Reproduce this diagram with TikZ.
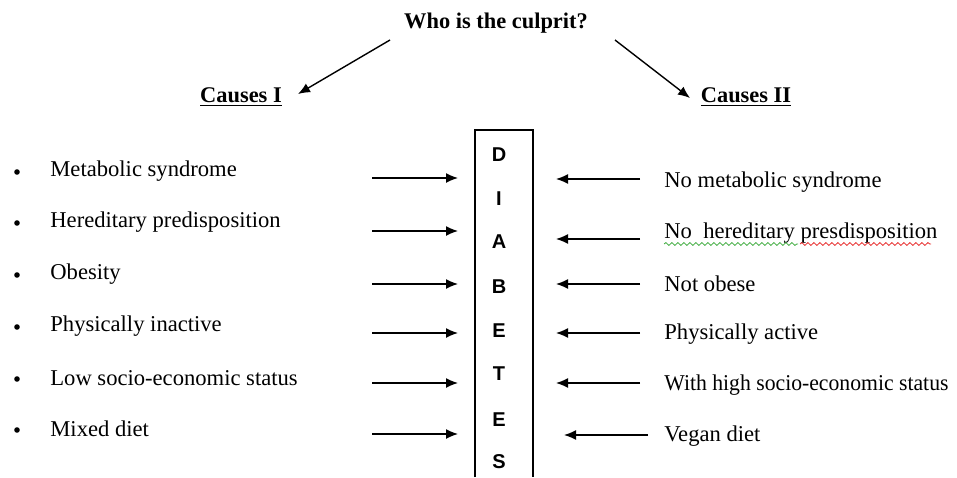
\documentclass[tikz,border=0pt]{standalone}
\usepackage{fontspec}
\setmainfont{Liberation Serif}
\newfontfamily\boxfont{Liberation Sans}
\usetikzlibrary{arrows.meta,decorations.pathmorphing}
\definecolor{spellred}{RGB}{230,40,40}
\definecolor{spellgreen}{RGB}{60,170,60}

\tikzset{
  txt/.style={anchor=west, inner sep=0pt, font=\fontsize{11.3}{14}\selectfont},
  head/.style={inner sep=0pt, font=\fontsize{11.2}{14}\selectfont\bfseries},
  letter/.style={inner sep=0pt, font=\fontsize{10}{12}\selectfont\boxfont\bfseries},
  arr/.style={-{Latex[length=6pt,width=5pt]}, line width=0.7pt},
  wavy/.style={decorate, decoration={snake, amplitude=0.7pt, segment length=3pt}, thin}
}

\begin{document}
\begin{tikzpicture}[x=0.5pt,y=-0.5pt]
\useasboundingbox (0,0) rectangle (957,477);

% heading
\node[head] (who) at (496,23) {Who is the culprit?};
\node[head] (c1) at (241,97) {\underline{Causes I}};
\node[head] (c2) at (746,97) {\underline{Causes II}};
\coordinate (w1) at (390,40);
\coordinate (w2) at (615,40);
\coordinate (t1) at (298,94);
\coordinate (t2) at (690,98);
\draw [arr] (w1)--(t1);
\draw [arr] (w2)--(t2);

% the box
\draw [line width=0.7pt] (475,477)--(475,130)--(533,130)--(533,477);
\foreach \l/\y [count=\i] in {D/155,I/199,A/242,B/287,E/331,T/374,E/420,S/462}
  \node[letter] (L\i) at (499,\y) {\l};

% causes I
\foreach \t/\y [count=\i] in {Metabolic syndrome/171, Hereditary predisposition/222,
  Obesity/274, Physically inactive/326, Low socio-economic status/378, Mixed diet/429}
{
  \fill (17,\y+1) circle (2.8);
  \node[txt] (a\i) at (50,\y) {\t};
}
\foreach \y [count=\i] in {178,231,284,333,383,434}
{
  \coordinate (p\i) at (372,\y);
  \coordinate (q\i) at (458,\y);
  \draw [arr] (p\i)--(q\i);
}

% causes II
\foreach \t/\y [count=\i] in {No metabolic syndrome/182, No\ \ hereditary presdisposition/233,
  Not obese/284, Physically active/334, \scalebox{0.96}[1]{With high socio-economic status}/385, Vegan diet/436}
  \node[txt] (b\i) at (664,\y) {\t};
\foreach \xa/\xb/\y [count=\i] in {640/556/179, 640/556/239, 640/556/284, 640/556/333, 640/556/383, 648/564/435}
{
  \coordinate (r\i) at (\xa,\y);
  \coordinate (s\i) at (\xb,\y);
  \draw [arr] (r\i)--(s\i);
}

% spell check marks
\draw [wavy, spellgreen] (664,244)--(798,244);
\draw [wavy, spellred] (800,244)--(931,244);

\end{tikzpicture}
\end{document}
